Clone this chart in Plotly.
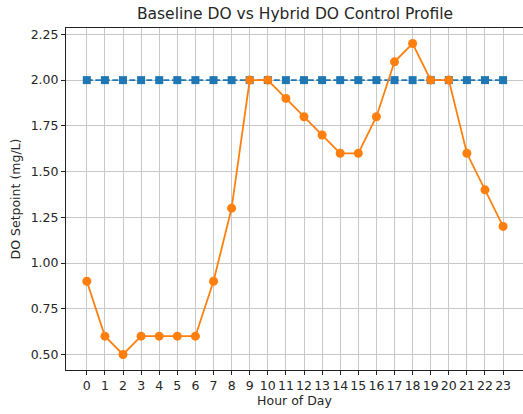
import plotly.graph_objects as go

hours = list(range(24))
baseline_do = [2.0] * 24
hybrid_do = [0.9, 0.6, 0.5, 0.6, 0.6, 0.6, 0.6, 0.9, 1.3, 2.0, 2.0, 1.9,
             1.8, 1.7, 1.6, 1.6, 1.8, 2.1, 2.2, 2.0, 2.0, 1.6, 1.4, 1.2]
y_ticks = [0.5, 0.75, 1.0, 1.25, 1.5, 1.75, 2.0, 2.25]
y_tick_labels = ["0.50", "0.75", "1.00", "1.25", "1.50", "1.75", "2.00", "2.25"]

fig = go.Figure()
fig.add_trace(go.Scatter(
    x=hours, y=baseline_do, mode="lines+markers", name="Baseline DO",
    line=dict(color="#1f77b4", width=1.8, dash="6px,2.5px"),
    marker=dict(symbol="square", size=8, color="#1f77b4"),
))
fig.add_trace(go.Scatter(
    x=hours, y=hybrid_do, mode="lines+markers", name="Hybrid DO",
    line=dict(color="#ff7f0e", width=1.8),
    marker=dict(symbol="circle", size=9, color="#ff7f0e"),
))

font = "DejaVu Sans, sans-serif"
fig.update_layout(
    width=523, height=414,
    margin=dict(l=66, r=0, t=28, b=44),
    paper_bgcolor="white", plot_bgcolor="white",
    showlegend=False,
    font=dict(family=font, size=12.5, color="#262626"),
    title=dict(text="Baseline DO vs Hybrid DO Control Profile",
               x=295 / 523, xanchor="center", y=1 - 14 / 414, yanchor="middle",
               font=dict(family=font, size=15.5, color="#262626")),
)
fig.update_xaxes(
    range=[-1.15, 24.1], tickmode="array", tickvals=hours,
    ticktext=[str(h) for h in hours],
    showgrid=True, gridcolor="#c8c8c8", gridwidth=1,
    showline=True, linecolor="#222", linewidth=1, mirror=True,
    ticks="outside", ticklen=4, tickcolor="#222",
    zeroline=False,
    title=dict(text="Hour of Day", font=dict(family=font, size=12.5), standoff=4),
)
fig.update_yaxes(
    range=[0.415, 2.285], tickmode="array", tickvals=y_ticks,
    ticktext=y_tick_labels,
    showgrid=True, gridcolor="#c8c8c8", gridwidth=1,
    showline=True, linecolor="#222", linewidth=1, mirror=False,
    ticks="outside", ticklen=4, tickcolor="#222",
    zeroline=False,
    title=dict(text="DO Setpoint (mg/L)", font=dict(family=font, size=12.5), standoff=7),
)

fig.write_html("out.html", config={"displayModeBar": False},
               post_script="document.body.style.margin='0';")
